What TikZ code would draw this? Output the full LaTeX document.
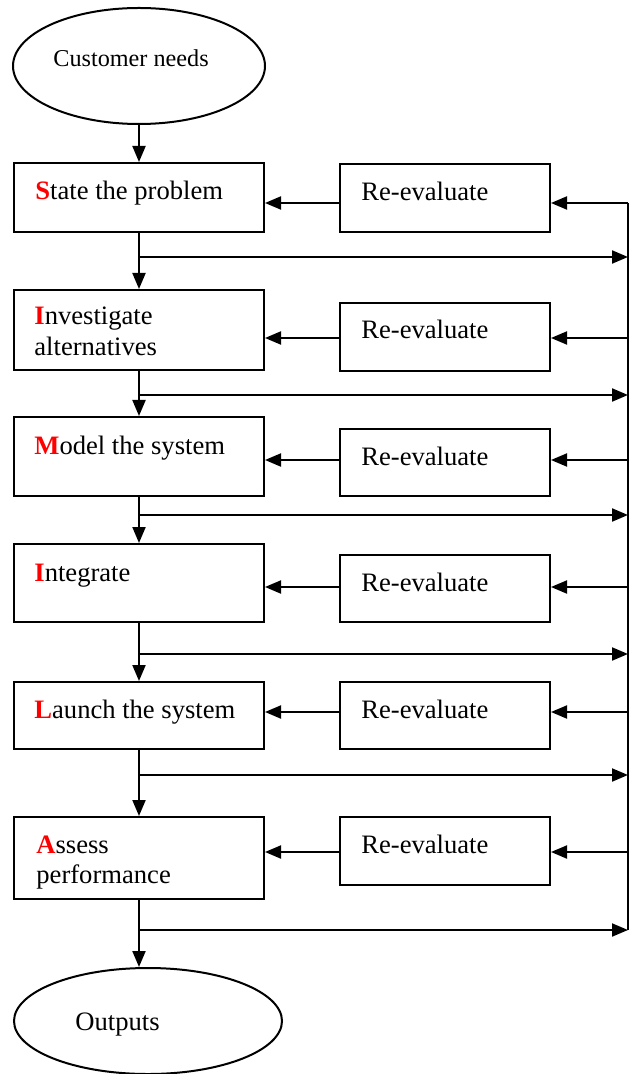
\documentclass[tikz,border=0pt]{standalone}
\usepackage{fontspec}
\setmainfont{Liberation Serif}
\usetikzlibrary{arrows.meta,fit,shapes.geometric}
\tikzset{
  box/.style={draw, line width=1pt, inner sep=0pt, rectangle},
  oval/.style={draw, line width=1pt, ellipse, inner sep=0pt},
  lbl/.style={anchor=base west, inner sep=0pt, font=\fontsize{13.3}{15.5}\selectfont},
  lblsmall/.style={anchor=base west, inner sep=0pt, font=\fontsize{12.1}{14}\selectfont},
  conn/.style={line width=1pt},
  arr/.style={line width=1pt, -{Triangle[length=8pt,width=6.5pt]}}
}
\newcommand{\rl}[1]{\textcolor{red}{\textbf{#1}}}
\begin{document}
\begin{tikzpicture}[x=0.5pt,y=-0.5pt]
\useasboundingbox (0,0) rectangle (629,1074);
% ellipses
\node[oval, minimum width=126pt, minimum height=58pt] (cn) at (139,66) {};
\node[lblsmall] (cnt) at (53,67) {Customer needs};
\node[oval, minimum width=134pt, minimum height=53pt] (out) at (148,1021) {};
\node[lbl] (outt) at (75,1030) {Outputs};
% main boxes
\node[box, fit={(14,163)(264,232)}] (s) {};
\node[box, fit={(14,290)(264,370)}] (i) {};
\node[box, fit={(14,417)(264,496)}] (m) {};
\node[box, fit={(14,544)(264,622)}] (g) {};
\node[box, fit={(14,682)(264,749)}] (l) {};
\node[box, fit={(14,817)(264,899)}] (as) {};
\node[lbl] (st) at (35,200) {\rl{S}tate the problem};
\node[lbl] (it1) at (34,325) {\rl{I}nvestigate};
\node[lbl] (it2) at (34,356) {alternatives};
\node[lbl] (mt) at (34,454) {\rl{M}odel the system};
\node[lbl] (gt) at (34,581) {\rl{I}ntegrate};
\node[lbl] (lt) at (34,718) {\rl{L}aunch the system};
\node[lbl] (at1) at (36,853) {\rl{A}ssess};
\node[lbl] (at2) at (36,883) {performance};
% re-evaluate boxes
\node[box, fit={(340,164)(550,232)}] (r1) {};
\node[box, fit={(340,303)(550,371)}] (r2) {};
\node[box, fit={(340,429)(550,496)}] (r3) {};
\node[box, fit={(340,555)(550,622)}] (r4) {};
\node[box, fit={(340,682)(550,749)}] (r5) {};
\node[box, fit={(340,817)(550,885)}] (r6) {};
\node[lbl] (r1t) at (361,201) {Re-evaluate};
\node[lbl] (r2t) at (361,339) {Re-evaluate};
\node[lbl] (r3t) at (361,465) {Re-evaluate};
\node[lbl] (r4t) at (361,591) {Re-evaluate};
\node[lbl] (r5t) at (361,718) {Re-evaluate};
\node[lbl] (r6t) at (361,853) {Re-evaluate};
% trunk coordinates
\coordinate (a1) at (628,203);
\coordinate (a2) at (628,338);
\coordinate (a3) at (628,460);
\coordinate (a4) at (628,587);
\coordinate (a5) at (628,712);
\coordinate (a6) at (628,852);
\coordinate (t1) at (628,257);
\coordinate (t2) at (628,395);
\coordinate (t3) at (628,515);
\coordinate (t4) at (628,654);
\coordinate (t5) at (628,775);
\coordinate (t6) at (628,930);
% vertical flow
\draw[arr] (cn.south) -- (s.north);
\draw[arr] (s.south) -- (i.north);
\draw[arr] (i.south) -- (m.north);
\draw[arr] (m.south) -- (g.north);
\draw[arr] (g.south) -- (l.north);
\draw[arr] (l.south) -- (as.north);
\draw[arr] (as.south) -- (as.south |- out.north);
% branches to trunk
\draw[arr] (t1 -| s.south) -- (t1);
\draw[arr] (t2 -| i.south) -- (t2);
\draw[arr] (t3 -| m.south) -- (t3);
\draw[arr] (t4 -| g.south) -- (t4);
\draw[arr] (t5 -| l.south) -- (t5);
\draw[arr] (t6 -| as.south) -- (t6);
% trunk
\draw[conn] (a1) -- (t6);
% feedback arrows
\foreach \k/\r/\b in {1/r1/s,2/r2/i,3/r3/m,4/r4/g,5/r5/l,6/r6/as}{
  \draw[arr] (a\k) -- (a\k -| \r.east);
  \draw[arr] (a\k -| \r.west) -- (a\k -| \b.east);
}
\end{tikzpicture}
\end{document}
